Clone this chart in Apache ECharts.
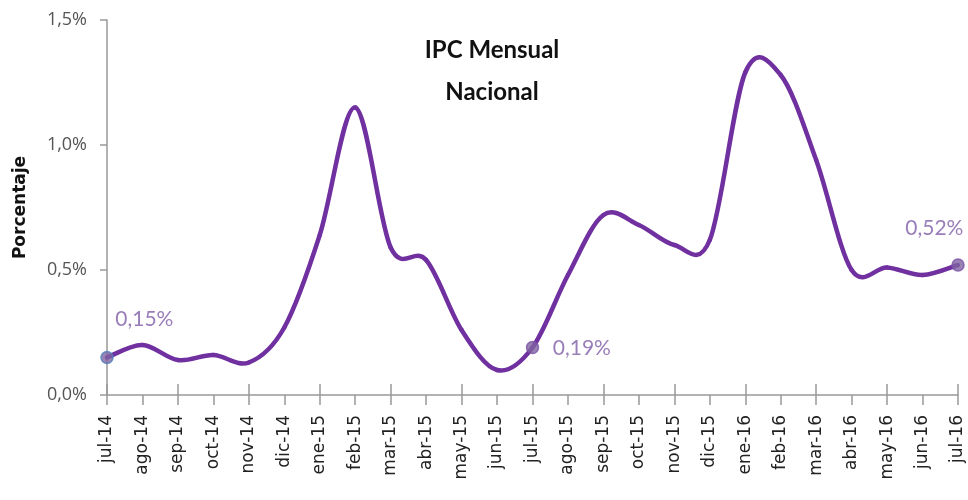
<!DOCTYPE html>
<html>
<head>
<meta charset="utf-8">
<script src="https://cdn.jsdelivr.net/npm/echarts@6/dist/echarts.min.js"></script>
<style>
  html, body { margin: 0; padding: 0; background: #fff; }
  #chart { width: 968px; height: 500px; }
</style>
</head>
<body>
<div id="chart"></div>
<script>
// meses
var meses = ['jul-14', 'ago-14', 'sep-14', 'oct-14', 'nov-14', 'dic-14', 'ene-15', 'feb-15', 'mar-15',
  'abr-15', 'may-15', 'jun-15', 'jul-15', 'ago-15', 'sep-15', 'oct-15', 'nov-15', 'dic-15',
  'ene-16', 'feb-16', 'mar-16', 'abr-16', 'may-16', 'jun-16', 'jul-16'];
// variacion mensual (%)
var ipc = [0.15, 0.20, 0.14, 0.16, 0.13, 0.27, 0.64, 1.15, 0.59, 0.54, 0.26, 0.10, 0.19,
  0.48, 0.72, 0.68, 0.60, 0.62, 1.29, 1.28, 0.94, 0.50, 0.51, 0.48, 0.52];
// puntos marcados con etiqueta
var marcados = [0, 12, 24];

var morado = '#7030A0';
var fmt = function (v, dec) { return v.toFixed(dec).replace('.', ',') + '%'; };

// curva suavizada estilo Excel (catmull-rom) usando las coordenadas del eje
function renderCurva(params, api) {
  if (params.dataIndex !== 0) return null;
  var p = ipc.map(function (v, i) { return api.coord([i, v]); });
  var segs = [];
  for (var i = 0; i < p.length - 1; i++) {
    var p0 = p[Math.max(i - 1, 0)], p1 = p[i], p2 = p[i + 1], p3 = p[Math.min(i + 2, p.length - 1)];
    segs.push({
      type: 'bezierCurve',
      shape: {
        x1: p1[0], y1: p1[1], x2: p2[0], y2: p2[1],
        cpx1: p1[0] + (p2[0] - p0[0]) / 6, cpy1: p1[1] + (p2[1] - p0[1]) / 6,
        cpx2: p2[0] - (p3[0] - p1[0]) / 6, cpy2: p2[1] - (p3[1] - p1[1]) / 6
      },
      style: { stroke: morado, lineWidth: 4.5, fill: null, lineCap: 'round' }
    });
  }
  return { type: 'group', children: segs };
}

var labelPos = { 0: [15, -42], 12: [27, -3], 24: [-46, -41] };
var puntos = marcados.map(function (i) {
  return {
    value: [i, ipc[i]],
    itemStyle: { color: '#8064A2', borderColor: i === 0 ? '#4F81BD' : '#7A50A8', borderWidth: 1.5 },
    label: {
      show: true,
      position: labelPos[i],
      formatter: fmt(ipc[i], 2),
      color: '#7E5CA6',
      fontFamily: 'Lato',
      fontSize: 21
    }
  };
});

var chart = echarts.init(document.getElementById('chart'));
chart.setOption({
  animation: false,
  title: {
    text: 'IPC Mensual\nNacional',
    left: 487,
    top: 24,
    textAlign: 'center',
    textStyle: { fontFamily: 'Lato', fontWeight: 'bold', fontSize: 24, color: '#111', lineHeight: 42 }
  },
  grid: { left: 107, right: 10, top: 20, bottom: 105 },
  xAxis: [{
    type: 'category',
    data: meses,
    boundaryGap: false,
    axisLine: { lineStyle: { color: '#999', width: 1.5 } },
    axisTick: { length: 10, lineStyle: { color: '#999', width: 1.5 } },
    axisLabel: { rotate: 90, interval: 0, color: '#222', fontFamily: 'DejaVu Sans', fontSize: 17, margin: 20 }
  }, {
    type: 'category',
    data: meses,
    boundaryGap: false,
    position: 'bottom',
    axisLine: { show: false },
    axisTick: { inside: true, length: 11, lineStyle: { color: '#999', width: 1.5 } },
    axisLabel: { show: false }
  }],
  yAxis: {
    type: 'value',
    min: 0,
    max: 1.5,
    interval: 0.5,
    name: 'Porcentaje',
    nameLocation: 'middle',
    nameGap: 78,
    nameTextStyle: { fontFamily: 'DejaVu Sans', fontWeight: 'bold', fontSize: 17, color: '#111' },
    axisLine: { show: true, lineStyle: { color: '#999', width: 1.5 } },
    axisTick: { show: true, length: 7, lineStyle: { color: '#999', width: 1.5 } },
    splitLine: { show: false },
    axisLabel: {
      color: '#555', fontFamily: 'Open Sans', fontSize: 18, margin: 20,
      formatter: function (v) { return fmt(v, 1); }
    }
  },
  series: [{
    type: 'custom',
    data: ipc.map(function (v, i) { return [i, v]; }),
    renderItem: renderCurva,
    z: 2
  }, {
    type: 'scatter',
    data: puntos,
    symbol: 'circle',
    symbolSize: 12,
    z: 3
  }]
});
</script>
</body>
</html>
